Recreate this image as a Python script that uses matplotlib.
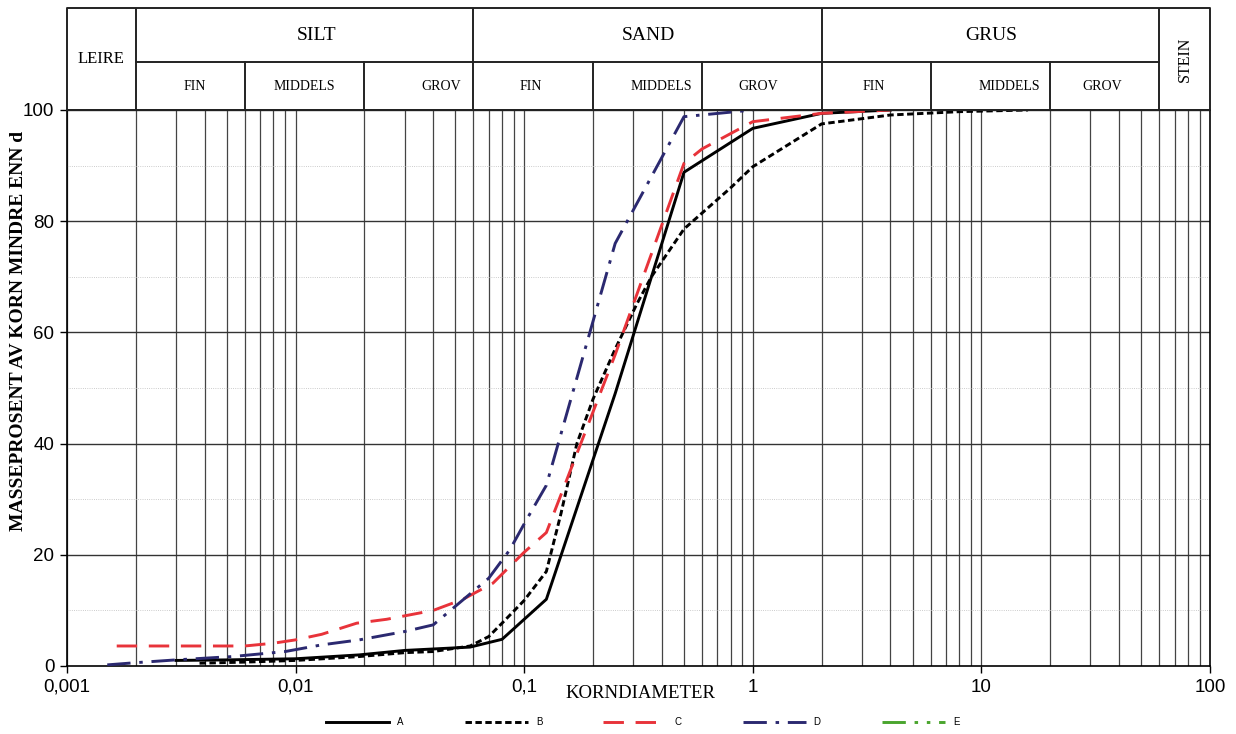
import numpy as np
import matplotlib
matplotlib.use("Agg")
import matplotlib.pyplot as plt

# Kornfordelingskurver (masseprosent mindre enn d)
A_d = [0.003, 0.005, 0.01, 0.019, 0.03, 0.058, 0.08, 0.125, 0.25, 0.5, 1, 2, 4]
A_p = [1.0, 1.1, 1.3, 2.0, 2.8, 3.4, 4.8, 12.0, 49.0, 88.8, 96.7, 99.4, 100]

B_d = [0.0038, 0.006, 0.01, 0.019, 0.03, 0.04, 0.058, 0.07, 0.08, 0.1, 0.125,
       0.145, 0.17, 0.2, 0.25, 0.31, 0.36, 0.5, 0.8, 1, 2, 4, 8, 16]
B_p = [0.5, 0.7, 1.0, 1.7, 2.4, 2.6, 3.6, 5.3, 7.7, 11.8, 17.0,
       27.5, 40.0, 48.0, 57.0, 65.0, 70.0, 78.6, 86.0, 89.8, 97.5, 99.1, 99.7, 100]

C_d = [0.00165, 0.006, 0.008, 0.01, 0.013, 0.0185, 0.025, 0.04, 0.054, 0.073,
       0.099, 0.125, 0.25, 0.5, 0.6, 1, 2, 4]
C_p = [3.6, 3.6, 4.1, 4.7, 5.7, 7.7, 8.4, 10.0, 12.0, 14.9,
       20.3, 24.0, 56.0, 90.4, 93.0, 97.9, 99.4, 100]

D_d = [0.0015, 0.002, 0.003, 0.0053, 0.009, 0.013, 0.019, 0.03, 0.04, 0.054,
       0.07, 0.0865, 0.1023, 0.125, 0.25, 0.5, 1]
D_p = [0.2, 0.6, 1.1, 1.7, 2.6, 3.8, 4.7, 6.2, 7.4, 11.9,
       15.8, 20.9, 26.3, 32.5, 76.0, 98.8, 100]

E_d = []
E_p = []

# Kornklasser (grenser i mm)
main_bounds = [0.002, 0.06, 2, 60]
main_names = ["SILT", "SAND", "GRUS"]
main_pos = [0.0123, 0.35, 11]
sub_bounds = [0.006, 0.02, 0.2, 0.6, 6, 20]
sub_names = ["FIN", "MIDDELS", "GROV"] * 3
sub_pos = [0.00363, 0.0109, 0.0433, 0.107, 0.40, 1.06, 3.39, 13.3, 33.7]

x_ticks = [0.001, 0.01, 0.1, 1, 10, 100]
x_ticklabels = ["0,001", "0,01", "0,1", "1", "10", "100"]

serif = "Liberation Serif"
sans = "Liberation Sans"

W, H = 1236, 734
fig = plt.figure(figsize=(W / 100, H / 100), dpi=100)

L, R = 67 / W, 1210 / W
ax = fig.add_axes([L, 1 - 666 / H, R - L, (666 - 110) / H])
ax.set_xscale("log")
ax.set_xlim(0.001, 100)
ax.set_ylim(0, 100)

# rutenett
for dec in [0.001, 0.01, 0.1, 1, 10]:
    for m in range(1, 10):
        ax.axvline(dec * m, color="#444444", lw=0.9, zorder=1)
for y in range(20, 101, 20):
    ax.axhline(y, color="#333333", lw=1.0, zorder=1)
for y in range(10, 100, 20):
    ax.axhline(y, color="#bbbbbb", lw=0.6, ls=":", zorder=1)

ax.plot(A_d, A_p, color="black", lw=2.1, label="A", zorder=3)
ax.plot(B_d, B_p, color="black", lw=2.1, ls=(0, (2.2, 1.2)), label="B", zorder=3)
ax.plot(C_d, C_p, color="#e8333a", lw=2.1, ls=(0, (7, 4)), label="C", zorder=3)
ax.plot(D_d, D_p, color="#2b2970", lw=2.1, ls=(0, (8, 3, 1.2, 3)), label="D", zorder=3)
ax.plot(E_d, E_p, color="#4aa52e", lw=2.1, ls=(0, (8, 3, 1.2, 3, 1.2, 3)), label="E")

ax.set_xticks(x_ticks)
ax.set_xticklabels(x_ticklabels, fontfamily=sans, fontsize=13.5)
ax.xaxis.set_minor_locator(matplotlib.ticker.NullLocator())
ax.set_yticks(range(0, 101, 20))
ax.set_yticklabels([str(v) for v in range(0, 101, 20)], fontfamily=sans, fontsize=13.5)
ax.tick_params(direction="out", length=5, width=1, pad=4)
for s in ax.spines.values():
    s.set_linewidth(1.2)

fig.text(640 / W, 1 - 693 / H, "KORNDIAMETER", ha="center", va="center",
         fontfamily=serif, fontsize=13.5)
fig.text(19 / W, 1 - 331 / H, "MASSEPROSENT AV KORN MINDRE ENN d", ha="center",
         va="center", rotation=90, fontfamily=serif, fontsize=14, fontweight="bold")

# tabellhode med kornklasser
hx = fig.add_axes([L, 1 - 110 / H, R - L, (110 - 8) / H])
hx.set_xscale("log")
hx.set_xlim(0.001, 100)
hx.set_ylim(0, 1)
hx.axis("off")
mid = 48 / 102
lc = "#222222"
hx.plot([0.001, 100, 100, 0.001, 0.001], [0, 0, 1, 1, 0], color=lc, lw=1.4, clip_on=False)
for b in main_bounds:
    hx.plot([b, b], [0, 1], color=lc, lw=1.4)
for b in sub_bounds:
    hx.plot([b, b], [0, mid], color=lc, lw=1.4)
hx.plot([0.002, 60], [mid, mid], color=lc, lw=1.4)

for xp, name in zip(main_pos, main_names):
    hx.text(xp, (1 + mid) / 2, name, ha="center", va="center",
            fontfamily=serif, fontsize=14)
for xp, name in zip(sub_pos, sub_names):
    hx.text(xp, mid / 2, name, ha="center", va="center",
            fontfamily=serif, fontsize=10)
hx.text(np.sqrt(0.001 * 0.002), 0.5, "LEIRE", ha="center", va="center",
        fontfamily=serif, fontsize=12)
hx.text(np.sqrt(60 * 100), 0.5, "STEIN", ha="center", va="center",
        rotation=90, fontfamily=serif, fontsize=11.5)

handles, labels = ax.get_legend_handles_labels()
fig.legend(handles, labels, loc="center", bbox_to_anchor=(0.52, 1 - 722 / H),
           ncol=5, frameon=False, handlelength=6.5, handletextpad=0.8,
           columnspacing=6.3, prop={"family": sans, "size": 7})

fig.savefig("out.png", dpi=100)
